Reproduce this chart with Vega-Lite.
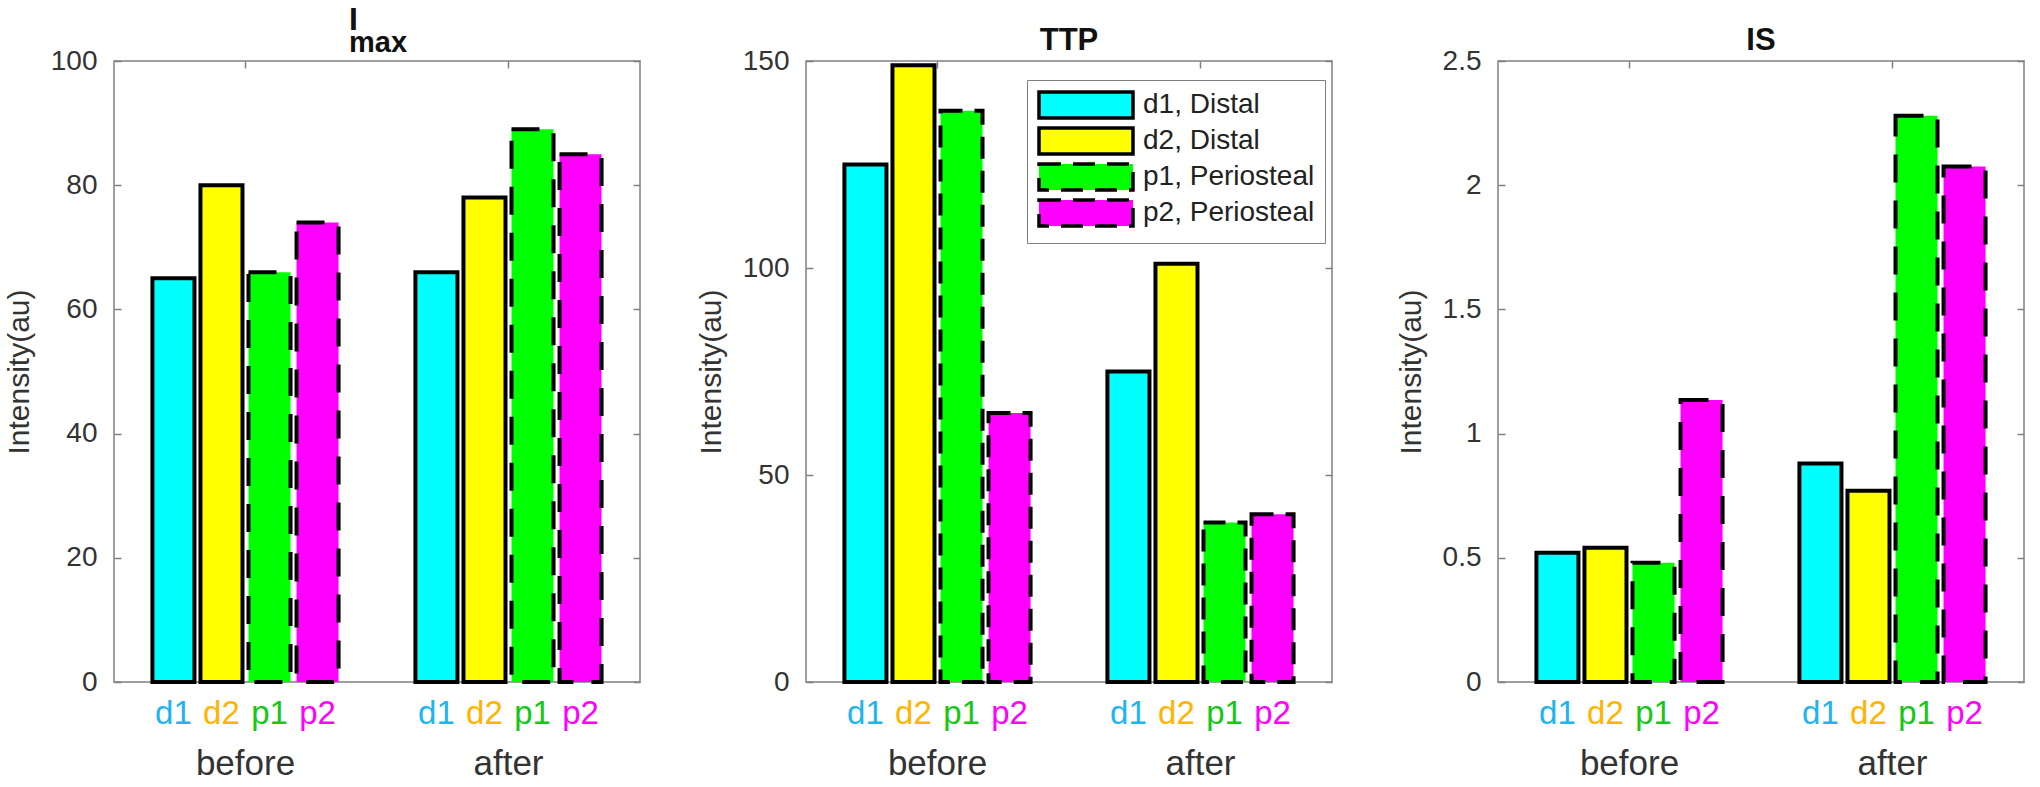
{
  "$schema": "https://vega.github.io/schema/vega-lite/v6.json",
  "background": "white",
  "padding": {"left": 3, "top": 3, "right": 4, "bottom": 0},
  "config": {
    "font": "Liberation Sans",
    "view": {"stroke": "#808080", "strokeWidth": 1.5},
    "axis": {"grid": false, "labelFont": "Liberation Sans", "titleFont": "Liberation Sans", "labelColor": "#333333", "titleColor": "#333333", "tickColor": "#808080", "tickWidth": 1.5},
    "title": {"font": "Liberation Sans", "color": "#111111", "subtitleColor": "#111111", "subtitleFont": "Liberation Sans"}
  },
  "bounds": "flush",
  "spacing": 166,
  "data": {"values": [
    {"metric": "Imax", "group": "before", "series": "d1", "value": 65},
    {"metric": "Imax", "group": "before", "series": "d2", "value": 80},
    {"metric": "Imax", "group": "before", "series": "p1", "value": 66},
    {"metric": "Imax", "group": "before", "series": "p2", "value": 74},
    {"metric": "Imax", "group": "after", "series": "d1", "value": 66},
    {"metric": "Imax", "group": "after", "series": "d2", "value": 78},
    {"metric": "Imax", "group": "after", "series": "p1", "value": 89},
    {"metric": "Imax", "group": "after", "series": "p2", "value": 85},
    {"metric": "TTP", "group": "before", "series": "d1", "value": 125},
    {"metric": "TTP", "group": "before", "series": "d2", "value": 149},
    {"metric": "TTP", "group": "before", "series": "p1", "value": 138},
    {"metric": "TTP", "group": "before", "series": "p2", "value": 65},
    {"metric": "TTP", "group": "after", "series": "d1", "value": 75},
    {"metric": "TTP", "group": "after", "series": "d2", "value": 101},
    {"metric": "TTP", "group": "after", "series": "p1", "value": 38.5},
    {"metric": "TTP", "group": "after", "series": "p2", "value": 40.5},
    {"metric": "IS", "group": "before", "series": "d1", "value": 0.52},
    {"metric": "IS", "group": "before", "series": "d2", "value": 0.54},
    {"metric": "IS", "group": "before", "series": "p1", "value": 0.48},
    {"metric": "IS", "group": "before", "series": "p2", "value": 1.135},
    {"metric": "IS", "group": "after", "series": "d1", "value": 0.88},
    {"metric": "IS", "group": "after", "series": "d2", "value": 0.77},
    {"metric": "IS", "group": "after", "series": "p1", "value": 2.28},
    {"metric": "IS", "group": "after", "series": "p2", "value": 2.075}
  ]},
  "resolve": {"scale": {"fill": "independent", "strokeDash": "independent", "color": "independent"}, "legend": {"fill": "independent", "strokeDash": "independent", "color": "independent"}},
  "hconcat": [
    {
      "width": 526, "height": 621,
      "title": {"text": "I", "subtitle": "\u00a0\u00a0\u00a0max", "anchor": "start", "frame": "group", "dx": 235, "fontSize": 32, "fontWeight": "bold", "subtitleFontSize": 29, "subtitleFontWeight": "bold", "subtitlePadding": -8, "offset": -12},
      "transform": [{"filter": "datum.metric == 'Imax'"}],
      "resolve": {"axis": {"x": "independent", "y": "independent"}},
      "layer": [
        {
          "mark": {"type": "bar", "stroke": "black", "strokeWidth": 4},
          "encoding": {
            "x": {"field": "group", "type": "nominal", "sort": ["before", "after"], "scale": {"paddingInner": 0, "paddingOuter": 0}, "axis": {"orient": "bottom", "title": null, "ticks": false, "domain": false, "labelAngle": 0, "labelFontSize": 35, "labelPadding": 64}},
            "xOffset": {"field": "series", "type": "nominal", "sort": ["d1", "d2", "p1", "p2"], "scale": {"paddingInner": 0.125, "paddingOuter": 0.8}},
            "y": {"field": "value", "type": "quantitative", "scale": {"domain": [0, 100], "nice": false}, "axis": {"orient": "left", "values": [0, 20, 40, 60, 80, 100], "format": "d", "title": "Intensity(au)", "titleFontSize": 30, "titleFontWeight": "normal", "titlePadding": 16, "labelFontSize": 28, "tickSize": -7, "labelPadding": 24, "domain": false}},
            "fill": {"field": "series", "type": "nominal", "scale": {"domain": ["d1", "d2", "p1", "p2"], "range": ["#00ffff", "#ffff00", "#00ff00", "#ff00ff"]}, "legend": null},
            "strokeDash": {"field": "series", "type": "nominal", "scale": {"domain": ["d1", "d2", "p1", "p2"], "range": [[1, 0], [1, 0], [28, 18], [28, 18]]}, "legend": null}
          }
        },
        {
          "mark": {"type": "text", "dy": 32, "fontSize": 33, "baseline": "middle"},
          "encoding": {
            "x": {"field": "group", "type": "nominal", "sort": ["before", "after"], "axis": {"orient": "top", "title": null, "labels": false, "domain": false, "tickSize": -7}},
            "xOffset": {"field": "series", "type": "nominal", "sort": ["d1", "d2", "p1", "p2"]},
            "y": {"datum": 0, "type": "quantitative", "axis": {"orient": "right", "title": null, "labels": false, "domain": false, "tickSize": -7, "values": [0, 20, 40, 60, 80, 100]}},
            "text": {"field": "series", "type": "nominal"},
            "color": {"field": "series", "type": "nominal", "scale": {"domain": ["d1", "d2", "p1", "p2"], "range": ["#1eb4f0", "#ffb400", "#14c814", "#ff00ff"]}, "legend": null}
          }
        }
      ]
    },
    {
      "width": 526, "height": 621,
      "title": {"text": "TTP", "fontSize": 31, "fontWeight": "bold", "offset": -10},
      "transform": [{"filter": "datum.metric == 'TTP'"}],
      "resolve": {"axis": {"x": "independent", "y": "independent"}},
      "layer": [
        {
          "mark": {"type": "bar", "stroke": "black", "strokeWidth": 4},
          "encoding": {
            "x": {"field": "group", "type": "nominal", "sort": ["before", "after"], "scale": {"paddingInner": 0, "paddingOuter": 0}, "axis": {"orient": "bottom", "title": null, "ticks": false, "domain": false, "labelAngle": 0, "labelFontSize": 35, "labelPadding": 64}},
            "xOffset": {"field": "series", "type": "nominal", "sort": ["d1", "d2", "p1", "p2"], "scale": {"paddingInner": 0.125, "paddingOuter": 0.8}},
            "y": {"field": "value", "type": "quantitative", "scale": {"domain": [0, 150], "nice": false}, "axis": {"orient": "left", "values": [0, 50, 100, 150], "format": "d", "title": "Intensity(au)", "titleFontSize": 30, "titleFontWeight": "normal", "titlePadding": 16, "labelFontSize": 28, "tickSize": -7, "labelPadding": 24, "domain": false}},
            "fill": {"field": "series", "type": "nominal", "scale": {"domain": ["d1", "d2", "p1", "p2"], "range": ["#00ffff", "#ffff00", "#00ff00", "#ff00ff"]},
              "legend": {"orient": "none", "legendX": 221, "legendY": 19, "title": null, "labelExpr": "datum.label == 'd1' ? 'd1, Distal' : datum.label == 'd2' ? 'd2, Distal' : datum.label == 'p1' ? 'p1, Periosteal' : 'p2, Periosteal'", "labelFontSize": 28, "labelLimit": 400, "labelColor": "#222222", "symbolType": "M-1,-1H6.23V1H-1Z", "symbolSize": 676, "symbolStrokeWidth": 3.5, "symbolStrokeColor": "black", "rowPadding": -4, "labelOffset": 76, "padding": 10, "strokeColor": "#808080", "fillColor": "white",
                "encode": {"symbols": {"update": {"stroke": {"value": "black"}, "strokeWidth": {"value": 3.5}}}}}},
            "strokeDash": {"field": "series", "type": "nominal", "scale": {"domain": ["d1", "d2", "p1", "p2"], "range": [[1, 0], [1, 0], [22, 12], [22, 12]]},
              "legend": {"orient": "none", "legendX": 221, "legendY": 19, "title": null, "labelExpr": "datum.label == 'd1' ? 'd1, Distal' : datum.label == 'd2' ? 'd2, Distal' : datum.label == 'p1' ? 'p1, Periosteal' : 'p2, Periosteal'", "labelFontSize": 28, "labelLimit": 400, "labelColor": "#222222", "symbolType": "M-1,-1H6.23V1H-1Z", "symbolSize": 676, "symbolStrokeWidth": 3.5, "symbolStrokeColor": "black", "rowPadding": -4, "labelOffset": 76, "padding": 10, "strokeColor": "#808080", "fillColor": "white",
                "encode": {"symbols": {"update": {"stroke": {"value": "black"}, "strokeWidth": {"value": 3.5}}}}}}
          }
        },
        {
          "mark": {"type": "text", "dy": 32, "fontSize": 33, "baseline": "middle"},
          "encoding": {
            "x": {"field": "group", "type": "nominal", "sort": ["before", "after"], "axis": {"orient": "top", "title": null, "labels": false, "domain": false, "tickSize": -7}},
            "xOffset": {"field": "series", "type": "nominal", "sort": ["d1", "d2", "p1", "p2"]},
            "y": {"datum": 0, "type": "quantitative", "axis": {"orient": "right", "title": null, "labels": false, "domain": false, "tickSize": -7, "values": [0, 50, 100, 150]}},
            "text": {"field": "series", "type": "nominal"},
            "color": {"field": "series", "type": "nominal", "scale": {"domain": ["d1", "d2", "p1", "p2"], "range": ["#1eb4f0", "#ffb400", "#14c814", "#ff00ff"]}, "legend": null}
          }
        }
      ]
    },
    {
      "width": 526, "height": 621,
      "title": {"text": "IS", "fontSize": 31, "fontWeight": "bold", "offset": -10},
      "transform": [{"filter": "datum.metric == 'IS'"}],
      "resolve": {"axis": {"x": "independent", "y": "independent"}},
      "layer": [
        {
          "mark": {"type": "bar", "stroke": "black", "strokeWidth": 4},
          "encoding": {
            "x": {"field": "group", "type": "nominal", "sort": ["before", "after"], "scale": {"paddingInner": 0, "paddingOuter": 0}, "axis": {"orient": "bottom", "title": null, "ticks": false, "domain": false, "labelAngle": 0, "labelFontSize": 35, "labelPadding": 64}},
            "xOffset": {"field": "series", "type": "nominal", "sort": ["d1", "d2", "p1", "p2"], "scale": {"paddingInner": 0.125, "paddingOuter": 0.8}},
            "y": {"field": "value", "type": "quantitative", "scale": {"domain": [0, 2.5], "nice": false}, "axis": {"orient": "left", "values": [0, 0.5, 1, 1.5, 2, 2.5], "format": ".1~f", "title": "Intensity(au)", "titleFontSize": 30, "titleFontWeight": "normal", "titlePadding": 16, "labelFontSize": 28, "tickSize": -7, "labelPadding": 24, "domain": false}},
            "fill": {"field": "series", "type": "nominal", "scale": {"domain": ["d1", "d2", "p1", "p2"], "range": ["#00ffff", "#ffff00", "#00ff00", "#ff00ff"]}, "legend": null},
            "strokeDash": {"field": "series", "type": "nominal", "scale": {"domain": ["d1", "d2", "p1", "p2"], "range": [[1, 0], [1, 0], [28, 18], [28, 18]]}, "legend": null}
          }
        },
        {
          "mark": {"type": "text", "dy": 32, "fontSize": 33, "baseline": "middle"},
          "encoding": {
            "x": {"field": "group", "type": "nominal", "sort": ["before", "after"], "axis": {"orient": "top", "title": null, "labels": false, "domain": false, "tickSize": -7}},
            "xOffset": {"field": "series", "type": "nominal", "sort": ["d1", "d2", "p1", "p2"]},
            "y": {"datum": 0, "type": "quantitative", "axis": {"orient": "right", "title": null, "labels": false, "domain": false, "tickSize": -7, "values": [0, 0.5, 1, 1.5, 2, 2.5]}},
            "text": {"field": "series", "type": "nominal"},
            "color": {"field": "series", "type": "nominal", "scale": {"domain": ["d1", "d2", "p1", "p2"], "range": ["#1eb4f0", "#ffb400", "#14c814", "#ff00ff"]}, "legend": null}
          }
        }
      ]
    }
  ]
}
